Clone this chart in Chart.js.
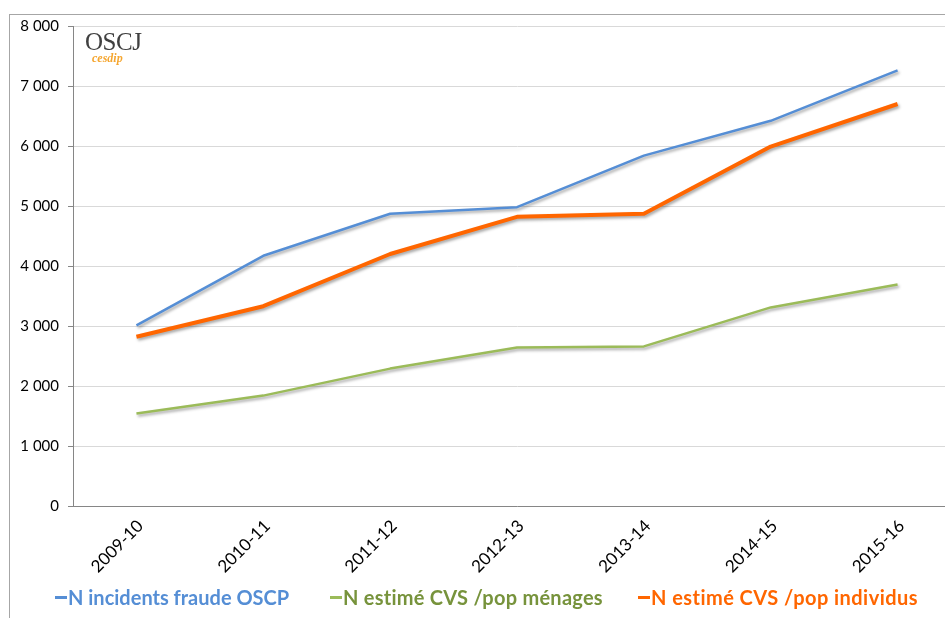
<!DOCTYPE html>
<html lang="fr">
<head>
<meta charset="utf-8">
<title>Fraude OSCP / CVS</title>
<script src="https://cdn.jsdelivr.net/npm/chart.js@4.4.1/dist/chart.umd.min.js"></script>
<style>
    html, body {
        margin: 0;
        padding: 0;
        width: 945px;
        height: 618px;
        overflow: hidden;
        background: #fff;
    }
    .frame {
        position: absolute;
        left: 9px;
        top: 14px;
        width: 1000px;
        height: 700px;
        border: 1px solid #a6a6a6;
    }
    #chartBox {
        position: absolute;
        left: 0;
        top: 0;
    }
    .logo {
        position: absolute;
        left: 85px;
        top: 29px;
        font-family: "Liberation Serif", "DejaVu Serif", serif;
        font-size: 25px;
        color: #404040;
        line-height: 25px;
        letter-spacing: -0.5px;
    }
    .logo-sub {
        position: absolute;
        left: 92px;
        top: 52px;
        font-family: "Liberation Serif", serif;
        font-style: italic;
        font-weight: bold;
        font-size: 12px;
        color: #f5a630;
        line-height: 12px;
    }
    .legend-item {
        position: absolute;
        top: 585px;
        display: flex;
        align-items: center;
        font-family: Lato, "Open Sans", sans-serif;
        font-weight: bold;
        font-size: 20px;
        line-height: 24px;
        white-space: nowrap;
    }
    .legend-item span.mark {
        display: inline-block;
        width: 12px;
        height: 3px;
        margin-right: 1px;
    }
</style>
</head>
<body>
<div class="frame"></div>
<canvas id="chartBox" width="961" height="618"></canvas>
<div class="logo">OSCJ</div>
<div class="logo-sub">cesdip</div>
<div id="legend"></div>

<script>
// Données
const categories = ['2009-10', '2010-11', '2011-12', '2012-13', '2013-14', '2014-15', '2015-16'];
const incidentsOSCP = [3010, 4170, 4870, 4980, 5840, 6420, 7260];
const cvsMenages = [1540, 1840, 2290, 2640, 2660, 3310, 3690];
const cvsIndividus = [2820, 3330, 4200, 4820, 4870, 5990, 6700];
const yTicks = [0, 1000, 2000, 3000, 4000, 5000, 6000, 7000, 8000];

const seriesNames = ['N incidents fraude OSCP', 'N estimé CVS /pop ménages', 'N estimé CVS /pop individus'];
const lineColors = ['#558ed5', '#9bbb59', '#ff6600'];
const textColors = ['#558ed5', '#77933c', '#ff6600'];
const legendLeft = [55, 330, 638];
const legendSpacing = [0, 0.25, 0.45];

function formatNombre(v) {
    return String(v).replace(/\B(?=(\d{3})+(?!\d))/g, ' ');
}

// Ombre portée sous les courbes (style Excel)
const shadowPlugin = {
    id: 'shadow',
    beforeDatasetDraw(chart) {
        const ctx = chart.ctx;
        ctx.save();
        ctx.shadowColor = 'rgba(0,0,0,0.35)';
        ctx.shadowBlur = 3;
        ctx.shadowOffsetX = 1.5;
        ctx.shadowOffsetY = 2;
    },
    afterDatasetDraw(chart) {
        chart.ctx.restore();
    }
};

const ctx = document.getElementById('chartBox').getContext('2d');

new Chart(ctx, {
    type: 'line',
    data: {
        labels: categories,
        datasets: [{
            label: seriesNames[0],
            data: incidentsOSCP,
            borderColor: lineColors[0],
            borderWidth: 2.5
        }, {
            label: seriesNames[1],
            data: cvsMenages,
            borderColor: lineColors[1],
            borderWidth: 2.5
        }, {
            label: seriesNames[2],
            data: cvsIndividus,
            borderColor: lineColors[2],
            borderWidth: 4
        }]
    },
    options: {
        responsive: false,
        animation: false,
        layout: {
            padding: { top: 26, left: 0, right: 0, bottom: 0 }
        },
        elements: {
            point: { radius: 0 },
            line: { tension: 0, borderCapStyle: 'butt', borderJoinStyle: 'round' }
        },
        plugins: {
            legend: { display: false },
            tooltip: { enabled: false }
        },
        scales: {
            x: {
                offset: true,
                grid: { display: true, drawOnChartArea: false, drawTicks: false },
                border: { display: true, color: '#868686', width: 1 },
                ticks: {
                    autoSkip: false,
                    minRotation: 45,
                    maxRotation: 45,
                    padding: 10,
                    labelOffset: 4,
                    color: '#000',
                    font: { family: 'Lato', size: 17 }
                },
                afterFit(scale) {
                    scale.height = 112;
                }
            },
            y: {
                min: 0,
                max: 8000,
                afterBuildTicks(scale) {
                    scale.ticks = yTicks.map(v => ({ value: v }));
                },
                grid: { color: '#d9d9d9', tickColor: '#868686', tickLength: 5 },
                border: { display: true, color: '#868686', width: 1 },
                ticks: {
                    padding: 9,
                    color: '#000',
                    font: { family: 'Lato', size: 15 },
                    callback: function(value) {
                        return formatNombre(value);
                    }
                },
                afterFit(scale) {
                    scale.width = 73;
                }
            }
        }
    },
    plugins: [shadowPlugin]
});

// Légende en HTML
const legend = document.getElementById('legend');
seriesNames.forEach((name, i) => {
    const item = document.createElement('div');
    item.className = 'legend-item';
    item.style.left = legendLeft[i] + 'px';
    item.style.color = textColors[i];
    item.style.letterSpacing = legendSpacing[i] + 'px';
    const mark = document.createElement('span');
    mark.className = 'mark';
    mark.style.background = lineColors[i];
    item.appendChild(mark);
    item.appendChild(document.createTextNode(name));
    legend.appendChild(item);
});
</script>
</body>
</html>
